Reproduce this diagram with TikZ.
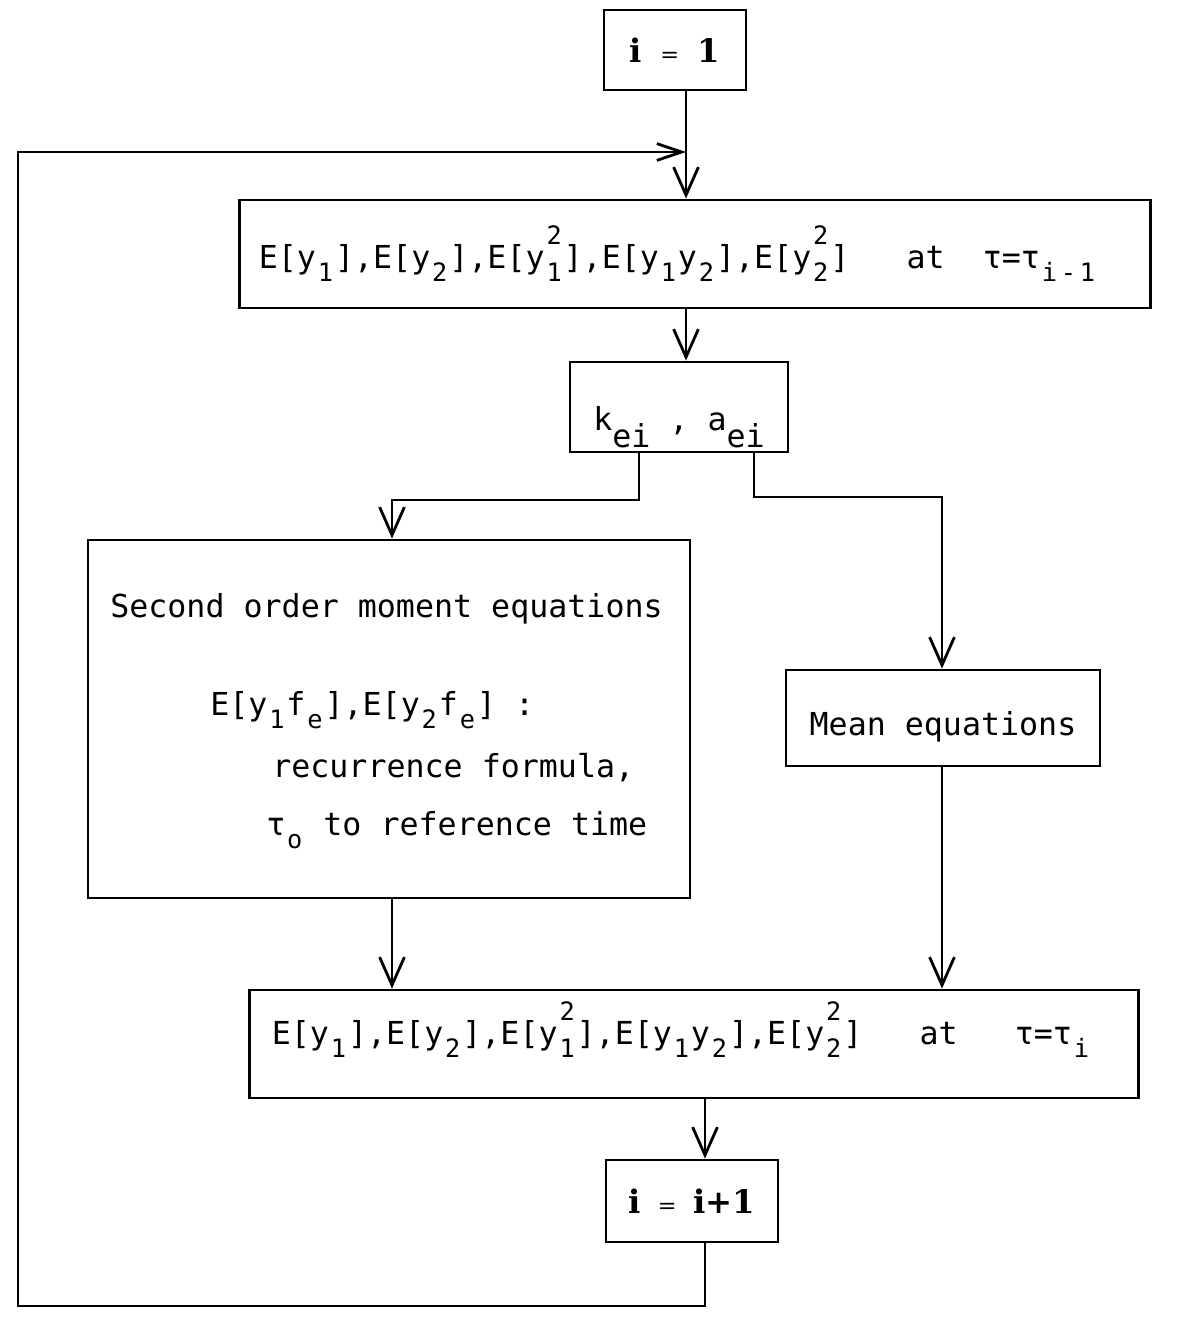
\documentclass[tikz,border=0pt]{standalone}
\usepackage{fontspec}
\setmonofont{DejaVu Sans Mono}
\newfontfamily\slab{DejaVu Serif}
\usetikzlibrary{arrows.meta}
% one typewriter pitch at the body size
\newlength\pitch
\setlength\pitch{13.55pt}
% lowered / raised indices, each on a full pitch
\newcommand\lo[1]{\raisebox{-0.42em}{\makebox[\pitch]{\fontsize{18}{18}\selectfont #1}}}
\newcommand\hi[1]{\raisebox{0.75em}{\makebox[\pitch]{\fontsize{18}{18}\selectfont #1}}}
\newcommand\hilo[2]{\rlap{\hi{#1}}\lo{#2}}
\newcommand\dn[1]{\raisebox{-0.55em}{#1}}
% fixed blank of n pitches
\newcommand\gap[1]{\hspace*{#1\pitch}}
\begin{document}
\begin{tikzpicture}[x=0.025cm,y=-0.025cm,
  mono/.style={font=\ttfamily\fontsize{22.5}{27}\selectfont},
  box/.style={draw, line width=2pt, inner sep=0pt, mono},
  flow/.style={line width=2pt, -{Straight Barb[length=0.7cm,width=0.62cm]}},
  feed/.style={line width=2pt, -{Straight Barb[length=0.62cm,width=0.42cm]}},
  serifbig/.style={font=\slab\bfseries\fontsize{23}{27}\selectfont},
  txt/.style={mono, inner sep=0pt, anchor=base west}]
\fill[white] (0,0) rectangle (1181,1318);

% boxes
\node[box, serifbig, minimum width=3.55cm, minimum height=2cm] (start) at (675,50)
  {i\hspace{13pt}{\mdseries\fontsize{16}{16}\selectfont =}\hspace{13pt}1};
\node[box, minimum width=22.75cm, minimum height=2.7cm, text width=21.8cm, align=left] (s1) at (695,254)
  {E[y\lo{1}],E[y\lo{2}],E[y\hilo{2}{1}],E[y\lo{1}y\lo{2}],E[y\hilo{2}{2}]\gap{3}at\gap{2}τ=τ\lo{i}\lo{-}\lo{1}};
\node[box, minimum width=5.45cm, minimum height=2.25cm, text height=1.5cm, text depth=0.35cm] (k) at (679,407)
  {k\dn{ei} , a\dn{ei}};
\node[box, minimum width=15.05cm, minimum height=8.95cm] (som) at (389,719) {};
\node[txt] (som1) at (110,617) {Second order moment equations};
\node[txt] (som2) at (210,715) {E[y\lo{1}f\lo{e}],E[y\lo{2}f\lo{e}] :};
\node[txt] (som3) at (272,777) {recurrence formula,};
\node[txt] (som4) at (266,835) {τ\lo{o} to reference time};
\node[box, minimum width=7.85cm, minimum height=2.4cm, text height=1.0cm, text depth=0.15cm] (mean) at (943,718)
  {Mean equations};
\node[box, minimum width=22.2cm, minimum height=2.7cm, text width=21.1cm, align=left,
      text height=1.0cm, text depth=1.0cm] (s2) at (694,1044)
  {E[y\lo{1}],E[y\lo{2}],E[y\hilo{2}{1}],E[y\lo{1}y\lo{2}],E[y\hilo{2}{2}]\gap{3}at\gap{3}τ=τ\lo{i}};
\node[box, serifbig, minimum width=4.3cm, minimum height=2.05cm] (inc) at (692,1201)
  {i\hspace{12pt}{\mdseries\fontsize{16}{16}\selectfont =}\hspace{12pt}i+1};

% routing points
\coordinate (j)  at (686,152);
\coordinate (ka) at (639,500);
\coordinate (kb) at (392,500);
\coordinate (kc) at (754,497);
\coordinate (kd) at (942,497);
\coordinate (m)  at (705,1306);
\coordinate (lb) at (18,1306);
\coordinate (lt) at (18,152);

% connectors
\draw[flow] (start.south -| j) -- (s1.north -| j);
\draw[flow] (s1.south -| j) -- (k.north -| j);
\draw[flow] (k.south -| ka) -- (ka) -- (kb) -- (som.north -| kb);
\draw[flow] (k.south -| kc) -- (kc) -- (kd) -- (mean.north -| kd);
\draw[flow] (som.south -| kb) -- (s2.north -| kb);
\draw[flow] (mean.south -| kd) -- (s2.north -| kd);
\draw[flow] (s2.south -| m) -- (inc.north -| m);
\draw[feed] (inc.south -| m) -- (m) -- (lb) -- (lt) -- (j);
\end{tikzpicture}
\end{document}
